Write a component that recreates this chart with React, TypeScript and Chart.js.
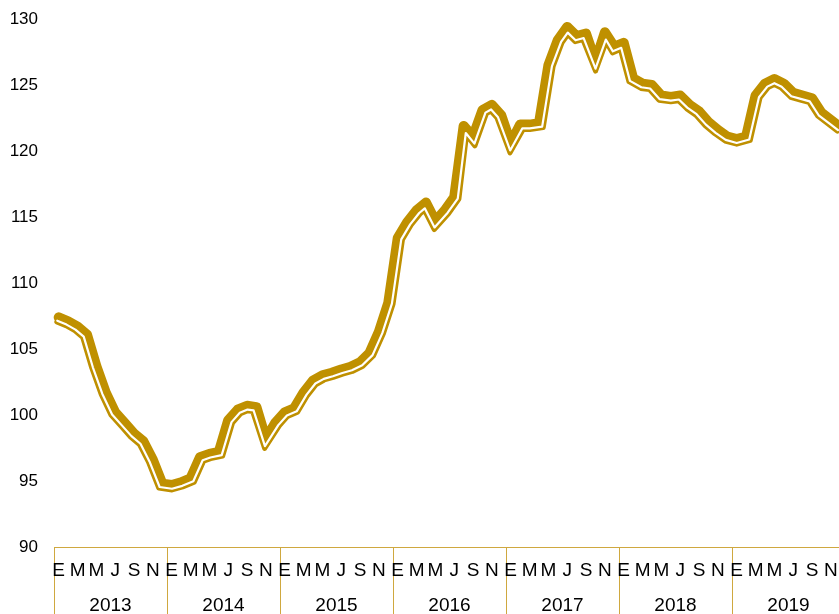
import { useEffect, useRef } from 'react';
import { Chart, registerables } from 'chart.js';

Chart.register(...registerables);

const years = ['2013', '2014', '2015', '2016', '2017', '2018', '2019'];
const monthInitials = ['E', 'F', 'M', 'A', 'M', 'J', 'J', 'A', 'S', 'O', 'N', 'D'];

const values2013 = [107.4, 107.1, 106.7, 106.1, 103.7, 101.7, 100.2, 99.4, 98.6, 98.0, 96.6, 94.8];
const values2014 = [94.7, 94.9, 95.2, 96.8, 97.05, 97.2, 99.6, 100.4, 100.7, 100.6, 98.2, 99.4];
const values2015 = [100.2, 100.5, 101.7, 102.6, 103.0, 103.2, 103.45, 103.65, 104.0, 104.7, 106.3, 108.5];
const values2016 = [113.4, 114.6, 115.5, 116.1, 114.7, 115.5, 116.5, 121.9, 121.1, 123.1, 123.5, 122.7];
const values2017 = [120.6, 122.0, 122.0, 122.1, 126.5, 128.4, 129.4, 128.7, 128.9, 126.8, 129.0, 127.9];
const values2018 = [128.2, 125.5, 125.1, 125.0, 124.2, 124.1, 124.2, 123.5, 123.0, 122.2, 121.6, 121.1];
const values2019 = [120.9, 121.1, 124.2, 125.1, 125.45, 125.1, 124.4, 124.2, 124.0, 122.9, 122.35, 121.8];

const GOLD = '#BF9000';
const AXIS_GOLD = '#CFA83F';
const FONT = "'Liberation Sans', Arial, sans-serif";

type Pt = { x: number; y: number };

function offsetPath(pts: Pt[], d: number): Pt[] {
  const n = pts.length;
  const normals: Pt[] = [];
  for (let i = 0; i < n - 1; i++) {
    const dx = pts[i + 1].x - pts[i].x;
    const dy = pts[i + 1].y - pts[i].y;
    const L = Math.hypot(dx, dy) || 1;
    normals.push({ x: -dy / L, y: dx / L });
  }
  const out: Pt[] = [];
  for (let i = 0; i < n; i++) {
    const a = normals[Math.max(0, i - 1)];
    const b = normals[Math.min(n - 2, i)];
    let mx = a.x + b.x;
    let my = a.y + b.y;
    const ml = Math.hypot(mx, my) || 1;
    mx /= ml;
    my /= ml;
    const cos = mx * b.x + my * b.y;
    const s = d / Math.max(cos, 0.5);
    out.push({ x: pts[i].x + mx * s, y: pts[i].y + my * s });
  }
  return out;
}

const compoundLine = {
  id: 'compoundLine',
  afterDatasetDraw(chart: any, args: any) {
    const pts: Pt[] = args.meta.data.map((p: any) => ({ x: p.x, y: p.y }));
    if (pts.length < 2) return;
    const ctx = chart.ctx as CanvasRenderingContext2D;
    const stroke = (path: Pt[], color: string, w: number) => {
      ctx.beginPath();
      path.forEach((p, i) => (i === 0 ? ctx.moveTo(p.x, p.y) : ctx.lineTo(p.x, p.y)));
      ctx.strokeStyle = color;
      ctx.lineWidth = w;
      ctx.stroke();
    };
    ctx.save();
    ctx.lineJoin = 'round';
    ctx.lineCap = 'round';
    stroke(offsetPath(pts, 4.9), GOLD, 5.0);
    stroke(offsetPath(pts, 3.7), '#FFFFFF', 2.2);
    ctx.restore();
  },
};

export default function App() {
  const ref = useRef<HTMLCanvasElement | null>(null);

  useEffect(() => {
    if (!ref.current) return;
    const values = [
      ...values2013, ...values2014, ...values2015, ...values2016,
      ...values2017, ...values2018, ...values2019,
    ];
    const labels: string[] = [];
    years.forEach(() => monthInitials.forEach((m) => labels.push(m)));

    const chart = new Chart(ref.current, {
      type: 'line',
      data: {
        labels,
        datasets: [
          {
            data: values,
            borderColor: GOLD,
            borderWidth: 10,
            borderCapStyle: 'round',
            borderJoinStyle: 'round',
            pointRadius: 0,
            tension: 0,
            fill: false,
            clip: false as any,
          },
        ],
      },
      options: {
        responsive: false,
        animation: false,
        layout: { padding: { top: 19, left: 0, right: 0, bottom: 0 } },
        plugins: { legend: { display: false }, tooltip: { enabled: false } },
        scales: {
          x: {
            type: 'category',
            position: 'bottom',
            offset: true,
            grid: {
              offset: true,
              drawOnChartArea: false,
              drawTicks: true,
              tickLength: 67,
              lineWidth: 1,
              color: (c: any) => (c.index % 12 === 0 ? AXIS_GOLD : 'rgba(0,0,0,0)'),
            },
            border: { display: true, color: AXIS_GOLD, width: 1 },
            ticks: {
              autoSkip: false,
              maxRotation: 0,
              minRotation: 0,
              padding: -55,
              color: '#000',
              font: { family: FONT, size: 19 },
              callback: (_v: any, i: number) => (i % 2 === 0 ? labels[i] : ''),
            },
            afterFit: (s: any) => {
              s.height = 33;
            },
          },
          x2: {
            type: 'category',
            position: 'bottom',
            labels: years,
            offset: true,
            grid: { display: false, drawTicks: false },
            border: { display: false },
            ticks: {
              padding: 14,
              color: '#000',
              font: { family: FONT, size: 19 },
              maxRotation: 0,
              autoSkip: false,
            },
            afterFit: (s: any) => {
              s.height = 34;
            },
          },
          y: {
            min: 90,
            max: 130,
            grid: { display: false, drawTicks: false },
            border: { display: false },
            ticks: {
              stepSize: 5,
              padding: 16,
              color: '#000',
              font: { family: FONT, size: 17 },
            },
            afterFit: (s: any) => {
              s.width = 54;
              s.paddingTop = 0;
              s.paddingBottom = 0;
            },
          },
        },
      } as any,
      plugins: [compoundLine],
    });
    return () => chart.destroy();
  }, []);

  return (
    <div
      style={{
        position: 'fixed',
        left: 0,
        top: 0,
        width: 839,
        height: 614,
        overflow: 'hidden',
        background: '#fff',
      }}
    >
      <canvas ref={ref} width={845} height={614} style={{ display: 'block' }} />
    </div>
  );
}
